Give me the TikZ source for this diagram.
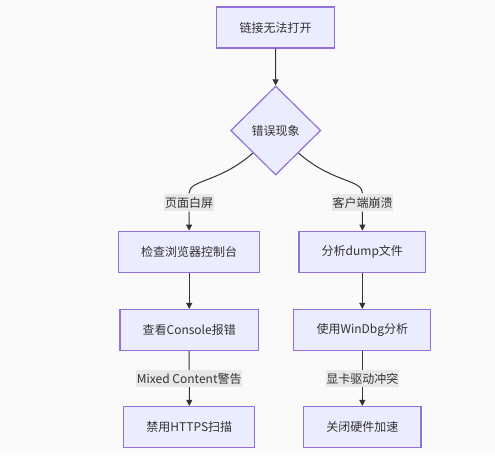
\documentclass[tikz,border=0pt]{standalone}
\usepackage{fontspec}
\setmainfont{Noto Sans CJK SC}
\usetikzlibrary{shapes.geometric,arrows.meta}

\definecolor{boxfill}{HTML}{ECECFF}
\definecolor{boxline}{HTML}{9370DB}
\definecolor{edgeline}{HTML}{333333}
\definecolor{lblfill}{HTML}{E8E8E8}
\definecolor{canvas}{HTML}{FAFAFA}

\tikzset{
  stepbox/.style={draw=boxline, fill=boxfill, line width=0.9pt, inner xsep=17pt,
    minimum height=30.75pt, text=edgeline, font=\fontsize{9}{11}\selectfont},
  choice/.style={diamond, draw=boxline, fill=boxfill, line width=0.9pt, inner sep=0pt,
    minimum width=67.5pt, minimum height=66.75pt, text=edgeline, font=\fontsize{9}{11}\selectfont},
  edgelabel/.style={fill=lblfill, inner xsep=0.5pt, inner ysep=2.5pt, text=edgeline,
    font=\fontsize{9}{11}\selectfont},
  flow/.style={draw=edgeline, line width=0.75pt, -{Triangle[length=4.5pt,width=4.5pt]}},
  flowline/.style={draw=edgeline, line width=0.75pt}
}

\begin{document}
\begin{tikzpicture}[x=0.75pt, y=-0.75pt]

    % Canvas
    \useasboundingbox (0,0) rectangle (495,463);
    \fill[canvas] (0,0) rectangle (495,453);

    % Start and the question
    \node[stepbox] (start) at (275.5,27.5) {链接无法打开};
    \node[choice] (err) at (275.7,130.5) {错误现象};

    % Branch labels
    \node[edgelabel] (white) at (189,202.5) {页面白屏};
    \node[edgelabel] (crash) at (362.5,202.5) {客户端崩溃};

    % Left column
    \node[stepbox] (devtools) at (189.2,251.7) {检查浏览器控制台};
    \node[stepbox] (console) at (189.2,330) {查看Console报错};
    \node[stepbox] (https) at (189.3,427) {禁用HTTPS扫描};

    % Right column
    \node[stepbox] (dump) at (362.3,251.7) {分析dump文件};
    \node[stepbox] (windbg) at (362.3,330) {使用WinDbg分析};
    \node[stepbox] (accel) at (362.3,427) {关闭硬件加速};

    % Top edge
    \draw[flow] (start) -- (err);

    % Curved branches
    \draw[flowline] (err.south west) .. controls +(-34,30) and +(0,-14) .. (white.north);
    \draw[flow] (white) -- (devtools);
    \draw[flowline] (err.south east) .. controls +(34,30) and +(0,-14) .. (crash.north);
    \draw[flow] (crash) -- (dump);

    % Columns
    \draw[flow] (devtools) -- (console);
    \draw[flow] (console) -- (https) node[edgelabel, midway] (mixed) {Mixed Content警告};
    \draw[flow] (dump) -- (windbg);
    \draw[flow] (windbg) -- (accel) node[edgelabel, midway] (gpu) {显卡驱动冲突};
\end{tikzpicture}
\end{document}
